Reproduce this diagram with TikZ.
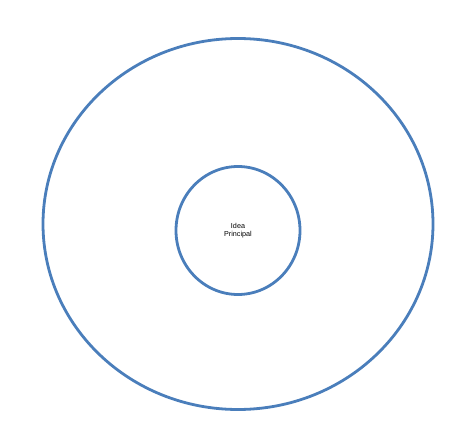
\documentclass[tikz,border=0pt]{standalone}
\usepackage{fontspec}
\setmainfont{Liberation Sans}
\usetikzlibrary{shapes.geometric}
\definecolor{ringblue}{HTML}{4A7EBB}
\begin{document}
\begin{tikzpicture}[x=1pt, y=-1pt, align = center, ring/.style = {draw=ringblue, line width=2.8pt}]
            \useasboundingbox (0,0) rectangle (474,447);
            \node[ring, ellipse, minimum width=390pt, minimum height=371pt, inner sep=0pt] (outer) at (238,224) {};
            \node[ring, ellipse, minimum width=124pt, minimum height=128pt, inner sep=0pt, font=\fontsize{7.2}{8}\selectfont] (idea) at (238,230.5) {Idea\\Principal};
        \end{tikzpicture}
\end{document}
